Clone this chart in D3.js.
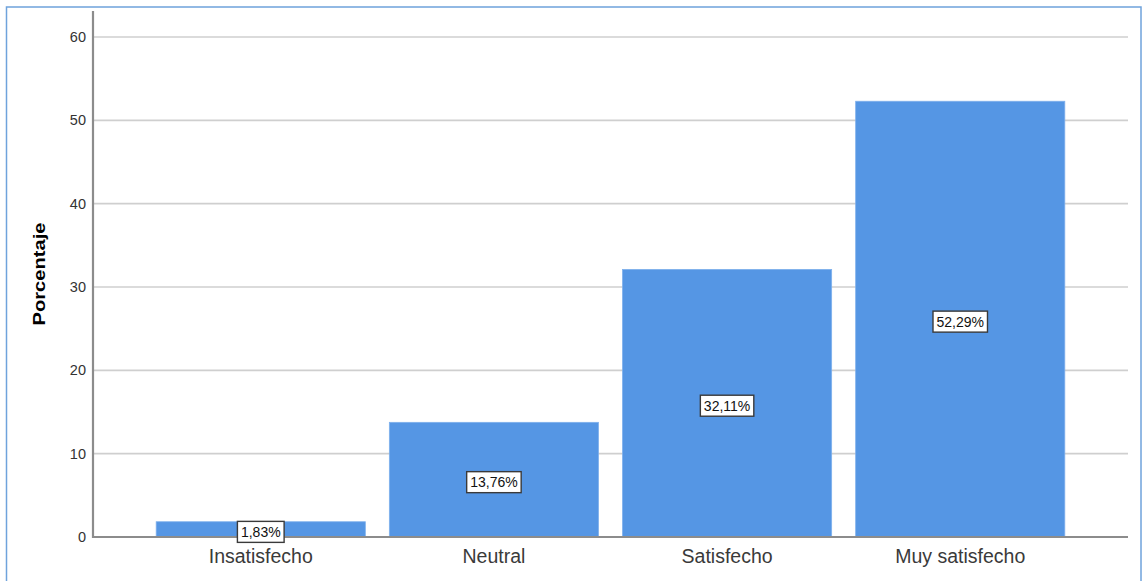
<!DOCTYPE html>
<html>
<head>
<meta charset="utf-8">
<script src="https://cdn.jsdelivr.net/npm/d3@7"></script>
<style>
  html, body { margin: 0; padding: 0; background: #fff; }
  svg { display: block; font-family: "Liberation Sans", Arial, sans-serif; }
</style>
</head>
<body>
<svg id="chart" width="1143" height="581"></svg>
<script>
// Satisfaction levels and their share of responses (%)
const categories = ["Insatisfecho", "Neutral", "Satisfecho", "Muy satisfecho"];
const percentages = [1.83, 13.76, 32.11, 52.29];
const valueLabels = ["1,83%", "13,76%", "32,11%", "52,29%"];
const yTicks = [0, 10, 20, 30, 40, 50, 60];
const yTitle = "Porcentaje";

const svg = d3.select("#chart");

// outer frame
svg.append("rect")
  .attr("x", 6.5).attr("y", 7).attr("width", 1134.5).attr("height", 590)
  .attr("fill", "none").attr("stroke", "#6fa3dc").attr("stroke-width", 1.5);

const plot = { left: 93, right: 1128, top: 11, bottom: 537 };

const x = d3.scaleBand()
  .domain(categories)
  .range([plot.left, plot.right])
  .paddingInner(0.103)
  .paddingOuter(0.271);

const y = d3.scaleLinear()
  .domain([0, 60])
  .range([plot.bottom, 37]);

// horizontal grid lines
svg.append("g")
  .selectAll("line")
  .data(yTicks.filter(d => d > 0))
  .join("line")
  .attr("x1", plot.left).attr("x2", plot.right)
  .attr("y1", d => y(d)).attr("y2", d => y(d))
  .attr("stroke", "#cfcfcf").attr("stroke-width", 1.6);

// bars
svg.append("g")
  .selectAll("rect")
  .data(percentages)
  .join("rect")
  .attr("x", (d, i) => x(categories[i]))
  .attr("width", x.bandwidth())
  .attr("y", d => y(d))
  .attr("height", d => y(0) - y(d))
  .attr("fill", "#5596e4")
  .attr("stroke", "#7eb0ec")
  .attr("stroke-width", 0.8);

// y axis
const yAxis = d3.axisLeft(y).tickValues(yTicks).tickSize(0).tickPadding(7);
const gy = svg.append("g").attr("transform", `translate(${plot.left},0)`).call(yAxis);
gy.select(".domain").remove();
gy.selectAll("text")
  .attr("font-size", 14.5).attr("fill", "#333")
  .attr("font-family", "Liberation Sans, Arial, sans-serif");
svg.append("line")
  .attr("x1", plot.left).attr("x2", plot.left)
  .attr("y1", plot.top).attr("y2", plot.bottom + 1)
  .attr("stroke", "#8c8c8c").attr("stroke-width", 2.2);

// x axis
const xAxis = d3.axisBottom(x).tickSize(0).tickPadding(12);
const gx = svg.append("g").attr("transform", `translate(0,${plot.bottom})`).call(xAxis);
gx.select(".domain").remove();
gx.selectAll("text")
  .attr("font-size", 19.5).attr("fill", "#3a3a3a")
  .attr("font-family", "Liberation Sans, Arial, sans-serif");
svg.append("line")
  .attr("x1", plot.left - 1).attr("x2", plot.right)
  .attr("y1", plot.bottom).attr("y2", plot.bottom)
  .attr("stroke", "#8c8c8c").attr("stroke-width", 2);

// axis title
svg.append("text")
  .attr("transform", `translate(45,${(plot.top + plot.bottom) / 2}) rotate(-90)`)
  .attr("text-anchor", "middle")
  .attr("font-size", 17).attr("font-weight", "bold").attr("fill", "#000")
  .attr("textLength", 103).attr("lengthAdjust", "spacingAndGlyphs")
  .text(yTitle);

// value labels in boxes at mid-height of each bar
const lbl = svg.append("g").selectAll("g")
  .data(percentages)
  .join("g")
  .attr("transform", (d, i) =>
    `translate(${x(categories[i]) + x.bandwidth() / 2},${y(d / 2) + 2.5})`);

lbl.each(function (d, i) {
  const g = d3.select(this);
  const t = g.append("text")
    .attr("text-anchor", "middle").attr("dy", "0.36em")
    .attr("font-size", 14).attr("fill", "#111")
    .text(valueLabels[i]);
  const w = t.node().getComputedTextLength();
  g.insert("rect", "text")
    .attr("x", -w / 2 - 3.5).attr("y", -10.5)
    .attr("width", w + 7).attr("height", 21)
    .attr("fill", "#fff").attr("stroke", "#3a3a3a").attr("stroke-width", 1.4);
});
</script>
</body>
</html>
